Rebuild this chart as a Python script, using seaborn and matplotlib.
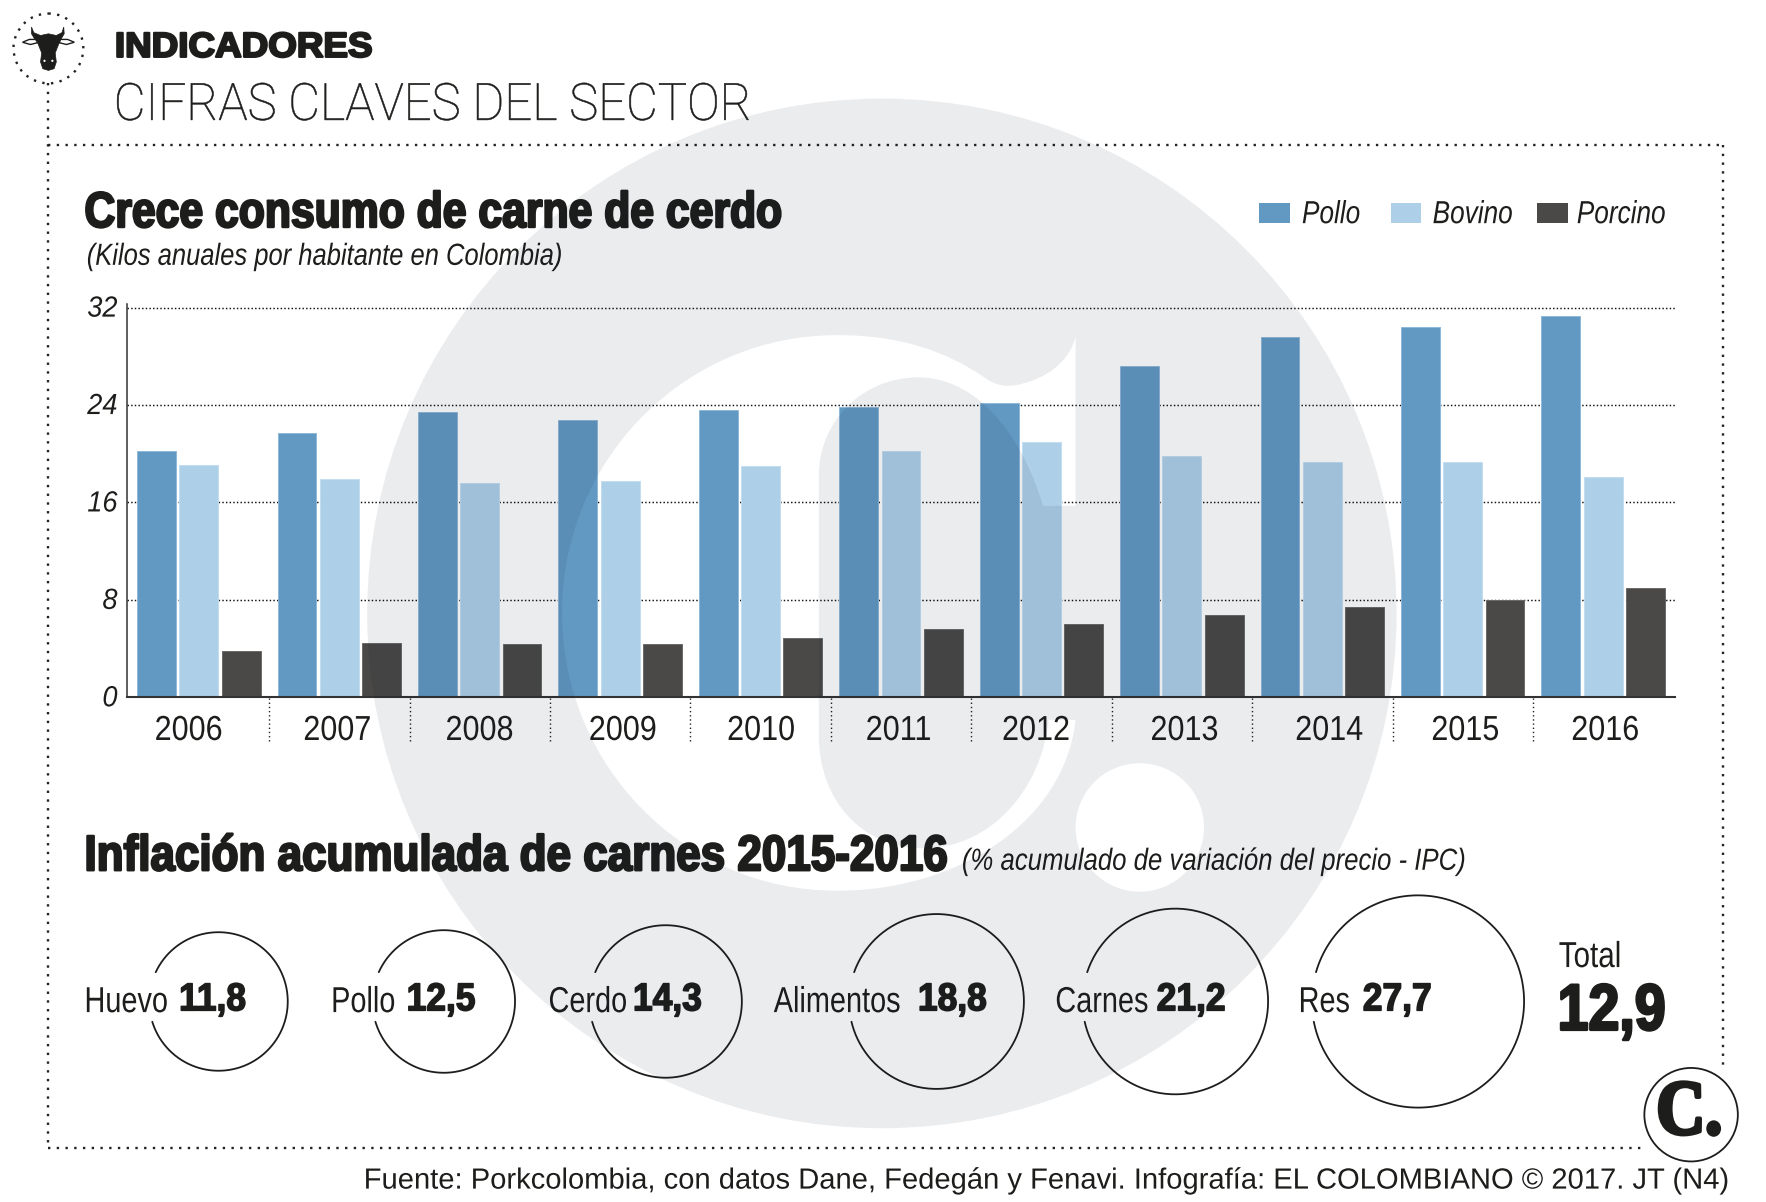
import numpy as np
import pandas as pd
import seaborn as sns
import matplotlib.pyplot as plt
from matplotlib.path import Path
from matplotlib.patches import PathPatch, Polygon, Circle, Rectangle
from matplotlib.patheffects import AbstractPathEffect
from matplotlib.text import Text
from matplotlib.transforms import Affine2D, Bbox

sns.set_theme(style="white")
BASE = ["Liberation Sans", "DejaVu Sans"]
plt.rcParams["font.family"] = BASE

INK = "#1d1d1b"

# bar chart data
years = ["2006", "2007", "2008", "2009", "2010", "2011", "2012", "2013", "2014", "2015", "2016"]
series = ["Pollo", "Bovino", "Porcino"]
pollo = [20.2, 21.7, 23.4, 22.8, 23.6, 23.8, 24.2, 27.2, 29.6, 30.4, 31.3]
bovino = [19.1, 17.9, 17.6, 17.8, 19.0, 20.2, 21.0, 19.8, 19.3, 19.3, 18.1]
porcino = [3.8, 4.5, 4.4, 4.4, 4.9, 5.6, 6.0, 6.8, 7.4, 8.0, 9.0]
colors = ["#6299c3", "#aecfe8", "#4a4947"]
y_ticks = [0, 8, 16, 24, 32]

# inflation bubbles
infl_names = ["Huevo", "Pollo", "Cerdo", "Alimentos", "Carnes", "Res"]
infl_values = [11.8, 12.5, 14.3, 18.8, 21.2, 27.7]
infl_total = "12,9"

# layout, in pixels of a 1568 wide canvas
W, H = 1568, 1067
year_pos = [-0.072, 0.987, 2.0, 3.02, 4.005, 4.984, 5.963, 7.02, 8.05, 9.02, 10.016]
bubble_x = [194, 394, 591, 831.5, 1043.5, 1259]
name_x = [75, 294, 487, 687, 937, 1153]
val_x = [159, 361, 562, 815, 1027, 1210]
legend_x = [1118, 1235, 1365]
legend_tx = [1156, 1272, 1400]
BUBBLE_K = 17.9

df = pd.DataFrame({
    "anio": years * 3,
    "carne": ["Pollo"] * 11 + ["Bovino"] * 11 + ["Porcino"] * 11,
    "kilos": pollo + bovino + porcino,
})


class Squeeze(AbstractPathEffect):
    # no condensed family is installed, so glyphs get narrowed when drawn
    def __init__(self, sx=1.0, align=0.0, stroke=0.0, dy=0.0):
        self.sx, self.align, self.stroke, self.dy = sx, align, stroke, dy

    def draw_path(self, renderer, gc, tpath, affine, rgbFace=None):
        w = tpath.get_extents().x1 * self.align
        tr = Affine2D().translate(-w, 0).scale(self.sx, 1).translate(w, 0) + affine + Affine2D().translate(0, self.dy)
        if self.stroke:
            gc0 = renderer.new_gc()
            gc0.copy_properties(gc)
            gc0.set_linewidth(self.stroke * renderer.points_to_pixels(1))
            gc0.set_foreground(rgbFace)
            renderer.draw_path(gc0, tpath, tr, rgbFace)
            gc0.restore()
        else:
            renderer.draw_path(gc, tpath, tr, rgbFace)


class NarrowText(Text):
    # same text, with an extent that tells the narrowed width
    sx = 1.0
    align = 0.0

    def get_window_extent(self, renderer=None, dpi=None):
        bb = super().get_window_extent(renderer, dpi)
        anchor = bb.x0 + self.align * bb.width
        return Bbox.from_extents(anchor + (bb.x0 - anchor) * self.sx, bb.y0, anchor + (bb.x1 - anchor) * self.sx, bb.y1)


fig = plt.figure(figsize=(17.66, 12.02), dpi=100, facecolor="white")

# --- layer for frame, texts and bubbles
deco = fig.add_axes([0, 0, 1, 1], zorder=0)
deco.set_xlim(0, W)
deco.set_ylim(H, 0)
deco.axis("off")

frame = dict(color="#222222", lw=1.7, linestyle=(0, (1, 2.7)))
deco.plot([43, 43], [74, 1019], **frame)
deco.plot([43, 1530], [129, 129], **frame)
deco.plot([1530, 1530], [129, 948], **frame)
deco.plot([43, 1460], [1019, 1019], **frame)

# bull icon
deco.add_patch(Circle((43, 43), 31, fill=False, ec="#222222", lw=1.7, linestyle=(0, (1, 2.7))))
for sgn in (-1, 1):
    ear = [(43 + sgn * 10, 35), (43 + sgn * 17, 35), (43 + sgn * 23, 37.5), (43 + sgn * 16, 39.5), (43 + sgn * 10, 38)]
    deco.add_patch(Polygon(ear, fc="white", ec=INK, lw=1))
head = [(28, 24), (30, 29), (36, 31.5), (43, 30), (50, 31.5), (55, 29), (56.6, 24), (57, 30), (54, 35), (53, 37),
        (49, 47), (50, 55), (48, 61), (43, 62.5), (38, 61), (36, 55), (37, 47), (33, 37), (31, 35), (28, 30)]
deco.add_patch(Polygon(head, fc=INK, ec=INK, lw=0.5))
deco.add_patch(Circle((39.5, 54), 1, fc="white", ec="none"))
deco.add_patch(Circle((46.5, 54), 1, fc="white", ec="none"))


def label(x, y, s, size, sx=1.0, stroke=0.0, **kw):
    kw.setdefault("color", INK)
    kw.setdefault("va", "center")
    t = NarrowText(x, y, s, fontsize=size, **kw)
    t.sx = sx
    t.align = {"left": 0.0, "center": 0.5, "right": 1.0}[t.get_ha()]
    t.set_path_effects([Squeeze(sx, t.align, stroke)])
    deco.add_artist(t)
    return t


label(102, 42, "INDICADORES", 25, sx=1.06, stroke=1.2, weight="bold")
label(101, 94, "CIFRAS CLAVES DEL SECTOR", 37, sx=0.953, stroke=0.3, family=["Roboto", "Liberation Sans"], weight="light")
label(75, 190, "Crece consumo de carne de cerdo", 36, sx=0.854, stroke=1.2, weight="bold")
label(77, 228, "(Kilos anuales por habitante en Colombia)", 22, sx=0.836, style="italic")
label(75, 761, "Inflación acumulada de carnes 2015-2016", 36, sx=0.88, stroke=1.2, weight="bold")
label(854, 765, "(% acumulado de variación del precio - IPC)", 22, sx=0.843, style="italic")

# legend
for lx, tx, name, col in zip(legend_x, legend_tx, series, colors):
    deco.add_patch(Rectangle((lx, 180), 27, 18, fc=col, ec="none"))
    label(tx, 191, name, 23, sx=0.82, style="italic")

# bubbles: radius goes with the square root of the value, open on the left where the name crosses
for cx, val, name, nx, vx in zip(bubble_x, infl_values, infl_names, name_x, val_x):
    r = BUBBLE_K * np.sqrt(val)
    t = np.linspace(np.pi + np.arcsin(26 / r), 3 * np.pi - np.arcsin(18 / r), 300)
    deco.plot(cx + r * np.cos(t), 889 + r * np.sin(t), color=INK, lw=1.3)
    label(nx, 890, name, 26, sx=0.8)
    label(vx, 888, f"{val:.1f}".replace(".", ","), 28, sx=0.91, stroke=0.8, weight="bold")
label(1384, 850, "Total", 26, sx=0.82)
label(1383, 899, infl_total, 47, sx=0.85, stroke=1.4, weight="bold")

# C. stamp
deco.add_patch(Circle((1501.5, 989.5), 41.5, fc="white", ec=INK, lw=1.3, zorder=4))
label(1500, 990, "C.", 56, sx=0.87, stroke=2, family=["Liberation Serif", "DejaVu Serif"], weight="bold",
      ha="center", zorder=5)

label(1534, 1048, "Fuente: Porkcolombia, con datos Dane, Fedegán y Fenavi. Infografía: EL COLOMBIANO © 2017. JT (N4)",
      21, ha="right")

# --- bars
top = 619 - 32.3 * 10.81
ax = fig.add_axes([113 / W, (H - 619) / H, (1487 - 113) / W, (619 - top) / H], zorder=1)
ax.patch.set_visible(False)
sns.barplot(data=df, x="anio", y="kilos", hue="carne", palette=colors,
            width=0.903, gap=0.08, saturation=1, legend=False, ax=ax)
for bars, edge in zip(ax.containers, ["#8fb8d8", "#c2dcf0", "#6b6a68"]):
    for b in bars:
        b.set_edgecolor(edge)
        b.set_linewidth(0.7)

ax.set_xlim(-0.51, 10.51)
ax.set_ylim(0, 32.3)
ax.set_xlabel("")
ax.set_ylabel("")
ax.set_xticks(year_pos, years, fontsize=25, color=INK)
ax.set_yticks(y_ticks, [str(v) for v in y_ticks], fontsize=21, style="italic", color=INK)
for lab in ax.get_xticklabels():
    lab.set_path_effects([Squeeze(0.88, 0.5)])
for lab in ax.get_yticklabels():
    lab.set_path_effects([Squeeze(0.93, 1.0, dy=2)])
ax.tick_params(axis="x", length=0, pad=12)
ax.tick_params(axis="y", length=0, pad=7)
ax.set_axisbelow(True)
ax.grid(axis="y", color="#111111", lw=1.05, linestyle=(0, (1, 1.5)))
ax.grid(axis="x", visible=False)
sns.despine(ax=ax, top=True, right=True)
ax.spines["left"].set_color("#333333")
ax.spines["left"].set_linewidth(1.1)
ax.spines["bottom"].set_color("#333333")
ax.spines["bottom"].set_linewidth(1.5)
ax.vlines(np.arange(10) + 0.5, -3.6, 0, color="#222222", lw=1.0, linestyle=(0, (1, 2)), clip_on=False)

# --- watermark on top: a dark tint at low alpha darkens the bars too, as a multiply would
wm = fig.add_axes([0, 0, 1, 1], zorder=3)
wm.set_xlim(0, W)
wm.set_ylim(H, 0)
wm.axis("off")


def ring(cx, cy, rx, ry, clockwise):
    # four bezier quarters starting on top; clockwise as seen on the page
    kx, ky = 0.5523 * rx, 0.5523 * ry
    s = 1 if clockwise else -1
    verts = [(cx, cy - ry),
             (cx + s * kx, cy - ry), (cx + s * rx, cy - ky), (cx + s * rx, cy),
             (cx + s * rx, cy + ky), (cx + s * kx, cy + ry), (cx, cy + ry),
             (cx - s * kx, cy + ry), (cx - s * rx, cy + ky), (cx - s * rx, cy),
             (cx - s * rx, cy - ky), (cx - s * kx, cy - ry), (cx, cy - ry)]
    codes = [Path.MOVETO] + [Path.CURVE4] * 12
    return verts, codes


L, C4 = Path.LINETO, Path.CURVE4
v_big, c_big = ring(783, 544.5, 457, 457, False)
v_dot, c_dot = ring(1012, 734.5, 57, 57, True)
v_c = [(743, 297.5),
       (800, 297.5), (840, 312), (874, 335),
       (885, 343), (893, 343), (901, 342),
       (930, 337), (950, 320), (955, 298.6),
       (955, 449), (926, 449),
       (912, 400), (875, 335), (815, 335),
       (765, 335), (727, 375), (727, 422),
       (727, 653),
       (727, 710), (765, 753), (820, 753),
       (880, 753), (925, 700), (931, 639),
       (955, 639),
       (945, 730), (850, 790.7), (743, 790.7),
       (608, 790.7), (499, 680), (499, 544),
       (499, 408), (608, 297.5), (743, 297.5)]
c_c = [Path.MOVETO, C4, C4, C4, C4, C4, C4, C4, C4, C4, L, L, C4, C4, C4, C4, C4, C4, L,
       C4, C4, C4, C4, C4, C4, L, C4, C4, C4, C4, C4, C4, C4, C4, C4]
logo = Path(v_big + v_c + v_dot, c_big + c_c + c_dot)
wm.add_patch(PathPatch(logo, fc=(5 / 255, 18 / 255, 42 / 255), ec="none", alpha=0.08))

fig.savefig("out.png", dpi=100, facecolor="white")
